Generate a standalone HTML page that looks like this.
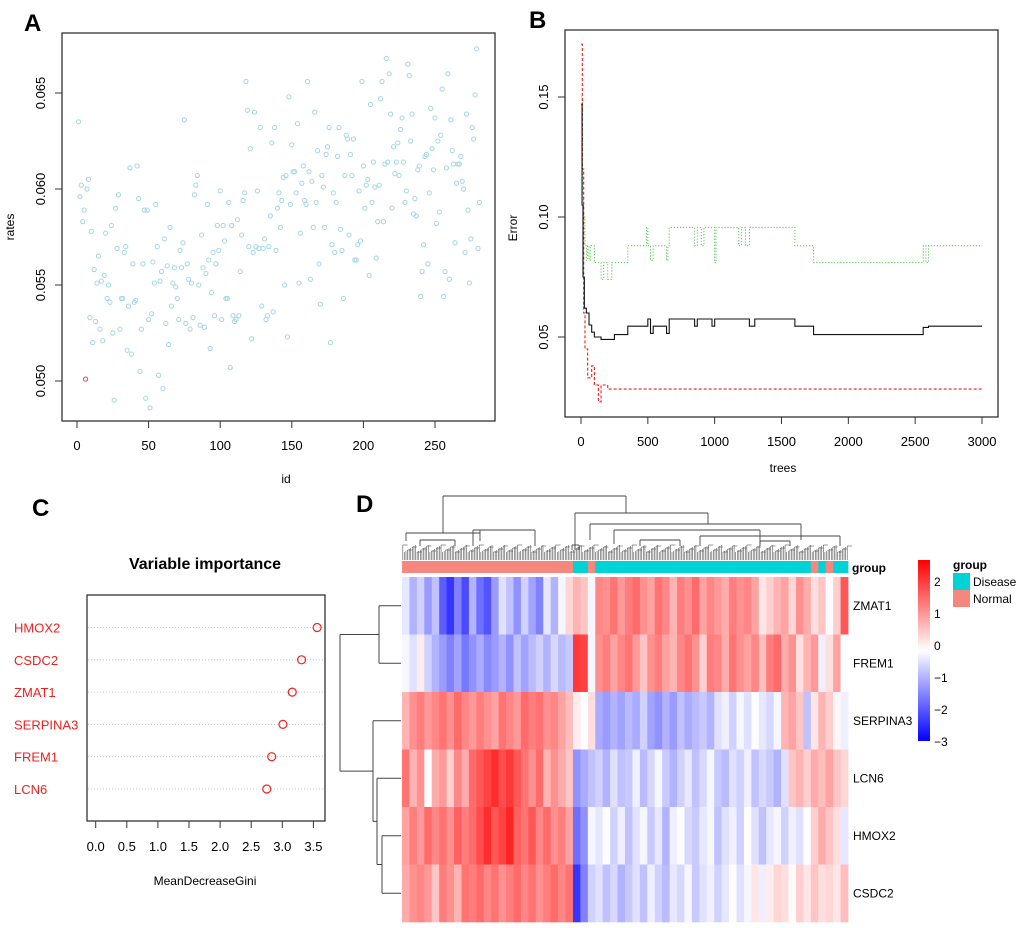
<!DOCTYPE html>
<html><head><meta charset="utf-8">
<style>
html,body{margin:0;padding:0;background:#fff;}
svg{display:block;font-family:"Liberation Sans",Arial,sans-serif;}
</style></head>
<body>
<svg id="fig" width="1020" height="928" viewBox="0 0 1020 928">
<rect width="1020" height="928" fill="#fff"/>
<text x="24" y="31" font-size="24" font-weight="bold">A</text>
<text x="529" y="28" font-size="24" font-weight="bold">B</text>
<text x="32" y="516" font-size="24" font-weight="bold">C</text>
<text x="356" y="512" font-size="24" font-weight="bold">D</text>
<g id="pa"></g>
<g id="pb"></g>
<g id="pc"></g>
<g id="pd"></g>
</svg>
<script>
// ---------- Panel A data ----------
var rates = [0.0635,0.0596,0.0602,0.0583,0.0589,0.0501,0.0600,0.0605,0.0533,0.0578,0.0520,0.0558,0.0531,0.0551,0.0565,0.0527,0.0552,0.0521,0.0555,0.0577,0.0543,0.0550,0.0541,0.0581,0.0525,0.0490,0.0590,0.0569,0.0597,0.0527,0.0543,0.0543,0.0567,0.0570,0.0516,0.0539,0.0611,0.0514,0.0561,0.0541,0.0542,0.0612,0.0595,0.0505,0.0527,0.0561,0.0589,0.0491,0.0589,0.0532,0.0486,0.0535,0.0562,0.0551,0.0592,0.0570,0.0503,0.0552,0.0557,0.0496,0.0574,0.0530,0.0560,0.0519,0.0580,0.0539,0.0551,0.0559,0.0549,0.0543,0.0532,0.0568,0.0559,0.0572,0.0636,0.0530,0.0561,0.0553,0.0527,0.0551,0.0533,0.0597,0.0602,0.0607,0.0550,0.0529,0.0576,0.0559,0.0528,0.0556,0.0592,0.0563,0.0517,0.0546,0.0567,0.0534,0.0561,0.0581,0.0568,0.0599,0.0532,0.0581,0.0573,0.0543,0.0543,0.0593,0.0507,0.0581,0.0534,0.0531,0.0532,0.0584,0.0534,0.0557,0.0576,0.0594,0.0598,0.0656,0.0641,0.0570,0.0621,0.0522,0.0567,0.0640,0.0570,0.0599,0.0569,0.0632,0.0539,0.0569,0.0574,0.0532,0.0534,0.0570,0.0586,0.0624,0.0536,0.0632,0.0568,0.0590,0.0598,0.0580,0.0594,0.0606,0.0550,0.0607,0.0523,0.0648,0.0592,0.0623,0.0609,0.0609,0.0598,0.0634,0.0551,0.0577,0.0603,0.0612,0.0594,0.0592,0.0656,0.0609,0.0553,0.0604,0.0580,0.0640,0.0593,0.0620,0.0561,0.0540,0.0607,0.0601,0.0580,0.0618,0.0622,0.0632,0.0520,0.0571,0.0598,0.0567,0.0593,0.0617,0.0632,0.0579,0.0568,0.0543,0.0607,0.0628,0.0626,0.0576,0.0618,0.0607,0.0626,0.0563,0.0563,0.0571,0.0599,0.0573,0.0656,0.0612,0.0590,0.0602,0.0605,0.0555,0.0644,0.0593,0.0614,0.0601,0.0564,0.0583,0.0602,0.0647,0.0656,0.0583,0.0613,0.0668,0.0614,0.0660,0.0639,0.0590,0.0622,0.0608,0.0614,0.0624,0.0607,0.0631,0.0637,0.0614,0.0593,0.0599,0.0665,0.0659,0.0625,0.0639,0.0587,0.0595,0.0586,0.0610,0.0612,0.0544,0.0557,0.0571,0.0617,0.0618,0.0561,0.0598,0.0642,0.0621,0.0610,0.0637,0.0582,0.0625,0.0588,0.0628,0.0652,0.0544,0.0557,0.0611,0.0660,0.0553,0.0636,0.0620,0.0613,0.0572,0.0603,0.0613,0.0613,0.0617,0.0604,0.0600,0.0567,0.0639,0.0589,0.0551,0.0574,0.0632,0.0626,0.0649,0.0673,0.0569,0.0593];
var highlightIndex = 5;
var aXTicks = [0,50,100,150,200,250];
var aYTicks = [0.050,0.055,0.060,0.065];

// ---------- Panel B data ----------
var oobTrees = [1,8,15,25,40,60,80,100,150,250,350,500,520,540,640,660,680,850,870,980,1000,1030,1180,1260,1300,1350,1600,1740,2560,2600,3000];
var oobErr   = [0.147,0.105,0.075,0.062,0.060,0.055,0.052,0.050,0.049,0.051,0.0545,0.0575,0.0515,0.0545,0.0515,0.0575,0.0575,0.0545,0.0575,0.0545,0.0575,0.0575,0.0575,0.0545,0.0575,0.0575,0.0545,0.051,0.054,0.0545,0.0545];
var grnTrees = [1,10,20,30,40,50,60,70,100,150,170,200,230,250,350,490,500,520,540,560,640,650,660,680,850,870,900,920,1000,1010,1030,1180,1200,1230,1260,1600,1740,2560,2580,2600,3000];
var grnErr   = [0.15,0.11,0.10,0.088,0.082,0.088,0.082,0.088,0.081,0.074,0.081,0.074,0.081,0.081,0.088,0.0957,0.088,0.082,0.088,0.088,0.082,0.088,0.0957,0.0957,0.088,0.0957,0.088,0.0957,0.081,0.0957,0.0957,0.088,0.0957,0.088,0.0957,0.088,0.081,0.088,0.081,0.088,0.088];
var redTrees = [1,10,20,30,50,80,100,130,150,200,3000];
var redErr   = [0.172,0.12,0.06,0.045,0.033,0.038,0.030,0.023,0.030,0.0283,0.0283];
var bXTicks = [0,500,1000,1500,2000,2500,3000];
var bYTicks = [0.05,0.10,0.15];
var bYLabels = ["0.05","0.10","0.15"];

// ---------- Panel C data ----------
var genes = ["HMOX2","CSDC2","ZMAT1","SERPINA3","FREM1","LCN6"];
var gini = [3.56,3.31,3.16,3.01,2.83,2.75];
var cTicks = [0,0.5,1,1.5,2,2.5,3,3.5];
var cTickLabels = ["0.0","0.5","1.0","1.5","2.0","2.5","3.0","3.5"];

// ---------- Panel D data ----------
var rowNames = ["ZMAT1","FREM1","SERPINA3","LCN6","HMOX2","CSDC2"];
var zmat1 = [-0.5,-1.2,-0.8,-1.5,-1,-2.2,-2.6,-1.8,-2.4,-1.2,-2,-2.3,-1.5,-0.6,-1,-1.6,-0.8,-1.4,-1.8,-0.5,-1.2,-0.3,0.4,0.8,0.6,-0.3,1.3,1.2,1.5,1.1,1.4,1.6,1.2,1.0,1.5,1.3,0.8,1.4,1.2,1.6,1.0,1.3,1.1,0.9,1.4,1.2,1.3,1.0,0.2,0.5,0.8,1.0,0.4,1.2,0.9,0.3,0.6,-0.2,0.5,1.8];
var frem1 = [-0.3,-0.6,0.1,-0.8,-1.2,-1.5,-1.8,-1.4,-1.9,-1.6,-1.3,-1.7,-1.5,-1.2,-1.6,-1.0,-1.4,-1.1,-0.8,-1.2,-0.7,-1.1,-0.9,2.1,2.0,-0.3,1.2,1.4,1.0,1.3,1.5,1.1,0.6,1.2,1.4,1.0,0.8,1.3,1.5,1.2,0.5,1.4,1.3,0.9,1.5,1.2,1.0,1.3,0.7,1.4,1.6,0.9,1.2,0.3,0.8,1.1,-0.4,0.3,1.0,-0.2];
var serpina3 = [0.8,1.2,1.4,1.1,1.3,1.5,1.2,1.6,1.3,1.1,1.4,1.2,1.0,1.5,1.3,1.1,1.6,1.4,1.5,1.2,1.3,1.0,0.7,0.1,-0.2,0.3,-1.3,-1.5,-1.2,-1.4,-1.1,-1.3,-0.8,-1.4,-1.6,-1.2,-1.5,-1.0,-1.3,-1.1,-0.9,-1.2,-0.6,-0.4,-0.8,-0.3,-0.6,-0.2,-0.5,-0.7,-0.3,0.8,1.0,0.6,-1.0,0.2,0.8,0.5,0.0,-0.4];
var lcn6 = [1.5,0.8,1.2,-0.2,0.9,1.1,0.5,1.3,0.9,1.6,1.8,2.0,2.2,1.9,2.1,1.8,1.5,1.2,1.6,0.8,1.2,0.9,0.6,-1.6,-1.3,-1.0,-0.8,-1.2,-0.6,-1.0,-0.9,-0.4,-1.1,-0.7,-0.3,-0.9,-1.2,-0.8,-0.5,-1.0,-0.7,-0.3,-0.9,-1.1,-0.6,-0.8,-0.4,-1.0,-0.7,-0.9,-1.2,-0.6,0.6,0.8,0.5,0.9,0.7,1.0,0.6,0.4];
var hmox2 = [1.0,1.4,1.1,1.6,1.3,1.5,1.2,1.7,1.4,1.6,1.9,2.2,1.8,2.0,2.3,1.7,1.5,1.8,1.3,1.6,1.2,1.4,1.0,-2.0,-1.6,-0.3,-0.5,-0.2,-0.8,-0.4,-1.0,-0.6,-0.3,-0.9,-0.5,-1.2,-0.4,-0.2,-0.7,-0.9,-0.5,-0.3,-1.0,-0.6,-0.4,-0.8,-0.2,-0.6,-1.0,-0.5,-0.3,-0.8,-0.4,-0.6,-0.2,0.5,0.9,0.6,0.3,-0.5];
var csdc2 = [0.9,1.2,1.3,1.1,0.6,1.4,1.2,0.8,1.5,1.4,1.6,1.3,1.5,1.2,1.4,1.6,1.3,1.5,1.2,1.4,1.6,1.3,1.5,-2.6,-1.8,-0.8,-0.6,-1.0,-0.7,-1.2,-0.9,-0.6,-1.0,-0.4,-0.8,-1.1,-0.5,-0.7,-0.3,-0.9,-0.6,-0.4,-0.8,-0.5,-0.2,-0.6,-0.3,0.2,-0.4,0.1,0.4,0.3,-0.1,0.5,0.2,0.6,0.3,0.4,0.2,0.7];
var groups = ["N","N","N","N","N","N","N","N","N","N","N","N","N","N","N","N","N","N","N","N","N","N","N","D","D","N","D","D","D","D","D","D","D","D","D","D","D","D","D","D","D","D","D","D","D","D","D","D","D","D","D","D","D","D","D","N","D","N","D","D"];
var cbTicks = [2,1,0,-1,-2,-3];
var cbLabels = ["2","1","0","\u22121","\u22122","\u22123"];

var NS = "http://www.w3.org/2000/svg";
function mk(parent, tag, attrs, txt){
  var e = document.createElementNS(NS, tag);
  for (var k in attrs) e.setAttribute(k, attrs[k]);
  if (txt !== undefined) e.textContent = txt;
  parent.appendChild(e);
  return e;
}
var el;

// ================= Panel A =================
(function(){
  var g = document.getElementById('pa');
  function xA(i){ return 77 + i*1.432; }
  function yA(v){ return 381 - (v-0.050)*19200; }
  el = mk(g,'rect',{x:62,y:33,width:433,height:388,fill:'none',stroke:'#333','stroke-width':1.3});
  
  
  for (var i=0;i<rates.length;i++){
    el = mk(g,'circle',{cx:xA(i+1),cy:yA(rates[i]),r:2.1,fill:'none',stroke:(i===highlightIndex?'#e8383b':'#a3d5e8'),'stroke-width':1});
    
    
  }
  aXTicks.forEach(function(t){
    el = mk(g,'line',{x1:xA(t),x2:xA(t),y1:421,y2:428,stroke:'#333'});
    
    
    el = mk(g,'text',{x:xA(t),y:450,'font-size':13,'text-anchor':'middle'},String(t));
    
    
  });
  aYTicks.forEach(function(t){
    el = mk(g,'line',{x1:55,x2:62,y1:yA(t),y2:yA(t),stroke:'#333'});
    
    
    el = mk(g,'text',{x:0,y:0,'font-size':13,'text-anchor':'middle',transform:'translate(45,'+yA(t)+') rotate(-90)'},t.toFixed(3));
    
    
  });
  el = mk(g,'text',{x:286,y:483,'font-size':12,'text-anchor':'middle'},'id');
  
  
  el = mk(g,'text',{x:0,y:0,'font-size':12,'text-anchor':'middle',transform:'translate(14,227) rotate(-90)'},'rates');
  
  
})();

// ================= Panel B =================
(function(){
  var g = document.getElementById('pb');
  function xB(t){ return 581 + t*401/3000; }
  function yB(v){ return 337 - (v-0.05)*2400; }
  el = mk(g,'rect',{x:565,y:30,width:433,height:387,fill:'none',stroke:'#333','stroke-width':1.3});
  
  
  function stepPath(ts, vs){
    var d = 'M'+xB(ts[0])+','+yB(vs[0]);
    for (var i=1;i<ts.length;i++){
      d += ' L'+xB(ts[i])+','+yB(vs[i-1])+' L'+xB(ts[i])+','+yB(vs[i]);
    }
    return d;
  }
  el = mk(g,'path',{d:stepPath(grnTrees,grnErr),fill:'none',stroke:'#4fc44f','stroke-width':1,'stroke-dasharray':'1.2,1.8'});
  
  
  el = mk(g,'path',{d:stepPath(redTrees,redErr),fill:'none',stroke:'#f01c1c','stroke-width':1.1,'stroke-dasharray':'3,2'});
  
  
  el = mk(g,'path',{d:stepPath(oobTrees,oobErr),fill:'none',stroke:'#111','stroke-width':1.1});
  
  
  bXTicks.forEach(function(t){
    el = mk(g,'line',{x1:xB(t),x2:xB(t),y1:417,y2:424,stroke:'#333'});
    
    
    el = mk(g,'text',{x:xB(t),y:446,'font-size':13,'text-anchor':'middle'},String(t));
    
    
  });
  bYTicks.forEach(function(t,i){
    el = mk(g,'line',{x1:558,x2:565,y1:yB(t),y2:yB(t),stroke:'#333'});
    
    
    el = mk(g,'text',{x:0,y:0,'font-size':13,'text-anchor':'middle',transform:'translate(548,'+yB(t)+') rotate(-90)'},bYLabels[i]);
    
    
  });
  el = mk(g,'text',{x:783,y:472,'font-size':12,'text-anchor':'middle'},'trees');
  
  
  el = mk(g,'text',{x:0,y:0,'font-size':12,'text-anchor':'middle',transform:'translate(517,228) rotate(-90)'},'Error');
  
  
})();

// ================= Panel C =================
(function(){
  var g = document.getElementById('pc');
  function xC(v){ return 95.7 + v*62.2; }
  function yC(i){ return 627.5 + i*32.3; }
  el = mk(g,'text',{x:205,y:569,'font-size':16,'font-weight':'bold','text-anchor':'middle'},'Variable importance');
  
  
  el = mk(g,'rect',{x:87,y:595,width:238,height:226,fill:'none',stroke:'#333','stroke-width':1.3});
  
  
  genes.forEach(function(name,i){
    el = mk(g,'line',{x1:88,x2:324,y1:yC(i),y2:yC(i),stroke:'#bbb','stroke-width':0.8,'stroke-dasharray':'1,2'});
    
    
    el = mk(g,'circle',{cx:xC(gini[i]),cy:yC(i),r:4,fill:'none',stroke:'#f02020','stroke-width':1.2});
    
    
    el = mk(g,'text',{x:14,y:yC(i)+5,'font-size':13,fill:'#f02020'},name);
    
    
  });
  cTicks.forEach(function(t,i){
    el = mk(g,'line',{x1:xC(t),x2:xC(t),y1:821,y2:828,stroke:'#333'});
    
    
    el = mk(g,'text',{x:xC(t),y:851,'font-size':13,'text-anchor':'middle'},cTickLabels[i]);
    
    
  });
  el = mk(g,'text',{x:205,y:885,'font-size':12,'text-anchor':'middle'},'MeanDecreaseGini');
  
  
})();

// ================= Panel D =================
(function(){
  var g = document.getElementById('pd');
  var rows = [zmat1,frem1,serpina3,lcn6,hmox2,csdc2];
  var X0 = 402, X1 = 848, Y0 = 577, Y1 = 922;
  var n = groups.length;
  var cw = (X1-X0)/n, rh = (Y1-Y0)/rows.length;
  var vmin = -3, vmax = 2.65;
  function col(v){
    var t = (v-vmin)/(vmax-vmin);
    t = Math.max(0,Math.min(1,t));
    var r,gg,b;
    if (t<0.5){ var s=Math.pow(t/0.5,0.8); r=Math.round(255*s); gg=Math.round(255*s); b=255; }
    else { var s2=Math.pow((t-0.5)/0.5,1.15); r=255; gg=Math.round(255*(1-s2)); b=Math.round(255*(1-s2)); }
    return 'rgb('+r+','+gg+','+b+')';
  }
  rows.forEach(function(arr,ri){
    arr.forEach(function(v,ci){
      el = mk(g,'rect',{x:X0+ci*cw,y:Y0+ri*rh,width:cw+0.4,height:rh+0.3,fill:col(v)});
      
      
    });
    el = mk(g,'text',{x:853,y:Y0+(ri+0.5)*rh+4,'font-size':12},rowNames[ri]);
    
    
  });
  groups.forEach(function(gr,ci){
    el = mk(g,'rect',{x:X0+ci*cw,y:561,width:cw+0.4,height:12,fill:(gr==='D'?'#00d3d6':'#f6877e')});
    
    
  });
  el = mk(g,'text',{x:852,y:572,'font-size':12,'font-weight':'bold'},'group');
  
  

  var dg = mk(g,'g',{stroke:'#444','stroke-width':0.9,fill:'none'});
  
  
  var segs = [
    [443,516,443,496],[443,496,626,496],[626,496,626,513],
    [406,541,406,533],[406,533,480,533],[480,533,480,541],[443,533,443,516],
    [473,546,473,530],[473,530,535,530],[535,530,535,546],[480,530,480,533],
    [575,550,575,513],[575,513,708,513],[708,513,708,524],
    [590,540,590,524],[590,524,801,524],[801,524,801,540],
    [614,544,614,530],[614,530,760,530],[760,530,760,544],
    [700,546,700,536],[700,536,840,536],[840,536,840,546],
    [572,550,572,545],[572,545,579,545],[579,545,579,550],
    [420,546,420,540],[420,540,455,540],[455,540,455,546],
    [640,546,640,540],[640,540,680,540],[680,540,680,546],
    [760,546,760,541],[760,541,790,541],[790,541,790,546]
  ];
  segs.forEach(function(s){
    el = mk(dg,'line',{x1:s[0],y1:s[1],x2:s[2],y2:s[3]});
    
    
  });
  for (var k=0;k<280;k++){
    var lx = X0 + (k+0.5)*(X1-X0)/280;
    var top = 545 + ((k*7)%8);
    el = mk(dg,'line',{x1:lx,y1:560,x2:lx,y2:top,'stroke-width':0.6,stroke:'#555'});
    
    
    if (k%3===0){
      el = mk(dg,'line',{x1:lx,y1:top,x2:lx+4.8,y2:top,'stroke-width':0.6,stroke:'#555'});
      
      
    }
  }
  var rg = mk(g,'g',{stroke:'#444','stroke-width':1,fill:'none'});
  
  
  function ry(i){ return Y0+(i+0.5)*rh; }
  var hc = (ry(4)+ry(5))/2, lc = (ry(3)+hc)/2, sc = (ry(2)+lc)/2, zc = (ry(0)+ry(1))/2;
  var rsegs = [
    [401,ry(0),379,ry(0)],[401,ry(1),379,ry(1)],[379,ry(0),379,ry(1)],
    [401,ry(4),382,ry(4)],[401,ry(5),382,ry(5)],[382,ry(4),382,ry(5)],
    [401,ry(3),377,ry(3)],[382,hc,377,hc],[377,ry(3),377,hc],
    [401,ry(2),373,ry(2)],[377,lc,373,lc],[373,ry(2),373,lc],
    [379,zc,340,zc],[373,sc,340,sc],[340,zc,340,sc]
  ];
  rsegs.forEach(function(s){
    el = mk(rg,'line',{x1:s[0],y1:s[1],x2:s[2],y2:s[3]});
    
    
  });

  var defs = mk(g,'defs',{});
  var lg = mk(defs,'linearGradient',{id:'cbg',x1:0,y1:1,x2:0,y2:0});
  mk(lg,'stop',{offset:'0',   'stop-color':'#0000ff'});
  mk(lg,'stop',{offset:'0.5', 'stop-color':'#ffffff'});
  mk(lg,'stop',{offset:'1',   'stop-color':'#ff0000'});
  el = mk(g,'rect',{x:918,y:560,width:12,height:181,fill:'url(#cbg)'});
  
  
  function yCb(v){ return 741 - (v-vmin)/(vmax-vmin)*181; }
  cbTicks.forEach(function(t,i){
    el = mk(g,'text',{x:934,y:yCb(t)+5,'font-size':12},cbLabels[i]);
    
    
  });
  el = mk(g,'text',{x:953,y:569,'font-size':12,'font-weight':'bold'},'group');
  
  
  el = mk(g,'rect',{x:953,y:573,width:17,height:17,fill:'#00d3d6'});
  
  
  el = mk(g,'text',{x:973,y:586,'font-size':12},'Disease');
  
  
  el = mk(g,'rect',{x:953,y:590,width:17,height:17,fill:'#f6877e'});
  
  
  el = mk(g,'text',{x:973,y:603,'font-size':12},'Normal');
  
  
})();
</script>
</body></html>
